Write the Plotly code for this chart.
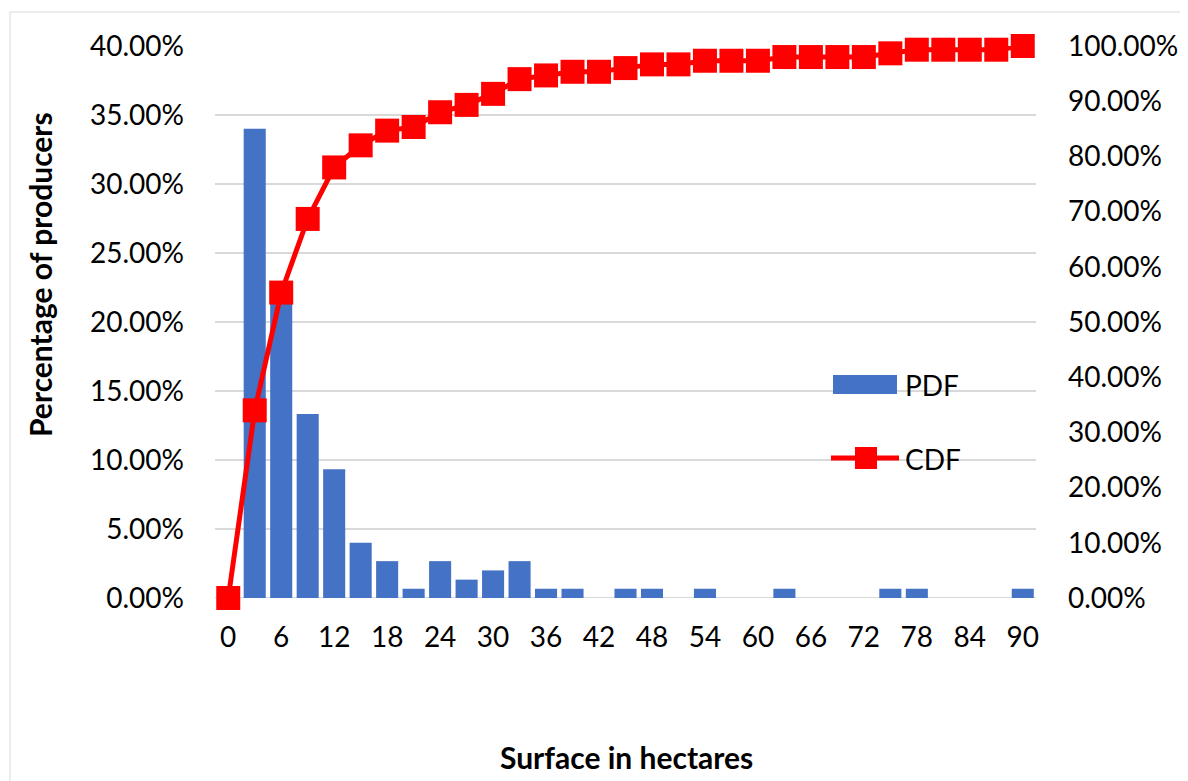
import plotly.graph_objects as go

# ---- data ----
surface = [0, 3, 6, 9, 12, 15, 18, 21, 24, 27, 30, 33, 36, 39, 42, 45, 48, 51, 54, 57, 60,
           63, 66, 69, 72, 75, 78, 81, 84, 87, 90]
pdf = [0.0, 34.00, 21.33, 13.33, 9.33, 4.00, 2.67, 0.67, 2.67, 1.33, 2.00, 2.67, 0.67, 0.67, 0.0,
       0.67, 0.67, 0.0, 0.67, 0.0, 0.0, 0.67, 0.0, 0.0, 0.0, 0.67, 0.67, 0.0, 0.0, 0.0, 0.67]
cdf = [0.0, 34.00, 55.33, 68.67, 78.00, 82.00, 84.67, 85.33, 88.00, 89.33, 91.33, 94.00, 94.67,
       95.33, 95.33, 96.00, 96.67, 96.67, 97.33, 97.33, 97.33, 98.00, 98.00, 98.00, 98.00, 98.67,
       99.33, 99.33, 99.33, 99.33, 100.0]
x_ticks = [0, 6, 12, 18, 24, 30, 36, 42, 48, 54, 60, 66, 72, 78, 84, 90]
left_ticks = [0, 0.05, 0.10, 0.15, 0.20, 0.25, 0.30, 0.35, 0.40]
right_ticks = [0, 0.1, 0.2, 0.3, 0.4, 0.5, 0.6, 0.7, 0.8, 0.9, 1.0]

OFF = 8  # page body margin
W, H = 1188, 781
PLOT_L, PLOT_R, PLOT_T, PLOT_B = 215, 1036, 46, 598  # target page pixels
L = PLOT_L - OFF
T = PLOT_T - OFF
PW = PLOT_R - PLOT_L
PH = PLOT_B - PLOT_T
R = W - L - PW
B = H - T - PH

def px(x):
    return (x - PLOT_L) / PW

def py(y):
    return (PLOT_B - y) / PH

FONT = "Lato"
BLUE = "#4472C4"
RED = "#FF0000"

fig = go.Figure()
fig.add_trace(go.Bar(x=surface, y=[v / 100 for v in pdf], name="PDF",
                     marker=dict(color=BLUE, line=dict(width=0)), width=2.5,
                     showlegend=False))
fig.add_trace(go.Scatter(x=surface, y=[v / 100 for v in cdf], name="CDF", yaxis="y2",
                         mode="lines+markers", cliponaxis=False,
                         line=dict(color=RED, width=5),
                         marker=dict(symbol="square", size=24, color=RED),
                         showlegend=False))

fig.update_layout(
    width=W, height=H,
    margin=dict(l=L, r=R, t=T, b=B),
    paper_bgcolor="white", plot_bgcolor="white",
    font=dict(family=FONT, size=28, color="#000000"),
    xaxis=dict(range=[-1.5, 91.5], tickmode="array", tickvals=x_ticks,
               ticktext=[str(t) for t in x_ticks], showgrid=False, zeroline=False,
               showline=False, ticks="", ticklabelstandoff=20),
    yaxis=dict(range=[0, 0.4], tickmode="array", tickvals=left_ticks, tickformat=".2%",
               showgrid=True, gridcolor="#D9D9D9", gridwidth=1.5, zeroline=False,
               ticks="", ticklabelstandoff=30),
    yaxis2=dict(range=[0, 1.0], tickmode="array", tickvals=right_ticks, tickformat=".2%",
                overlaying="y", side="right", showgrid=False, zeroline=False, ticks="",
                ticklabelstandoff=31),
    bargap=0.17,
)

shapes = [
    dict(type="line", xref="paper", yref="y", x0=0, x1=1, y0=0, y1=0,
         line=dict(color="#D9D9D9", width=2), layer="below"),
    dict(type="rect", xref="paper", yref="paper", x0=px(10), x1=px(1210), y0=py(810), y1=py(12),
         line=dict(color="#D9D9D9", width=1)),
    dict(type="rect", xref="paper", yref="paper", x0=px(833), x1=px(897), y0=py(394), y1=py(375),
         fillcolor=BLUE, line=dict(width=0)),
    dict(type="line", xref="paper", yref="paper", x0=px(831), x1=px(899), y0=py(458), y1=py(458),
         line=dict(color=RED, width=5)),
    dict(type="rect", xref="paper", yref="paper", x0=px(855), x1=px(877), y0=py(469), y1=py(447),
         fillcolor=RED, line=dict(width=0)),
]

annotations = [
    dict(text="PDF", xref="paper", yref="paper", x=px(903), y=py(385), xanchor="left",
         yanchor="middle", showarrow=False, font=dict(family=FONT, size=28)),
    dict(text="CDF", xref="paper", yref="paper", x=px(903), y=py(459), xanchor="left",
         yanchor="middle", showarrow=False, font=dict(family=FONT, size=28)),
    dict(text="<b>Percentage of producers</b>", xref="paper", yref="paper", x=px(40), y=py(275),
         xanchor="center", yanchor="middle", textangle=-90, showarrow=False,
         font=dict(family=FONT, size=30)),
    dict(text="<b>Surface in hectares</b>", xref="paper", yref="paper", x=px(626), y=py(757),
         xanchor="center", yanchor="middle", showarrow=False, font=dict(family=FONT, size=30)),
]
fig.update_layout(shapes=shapes, annotations=annotations)

fig.write_html("out.html")
